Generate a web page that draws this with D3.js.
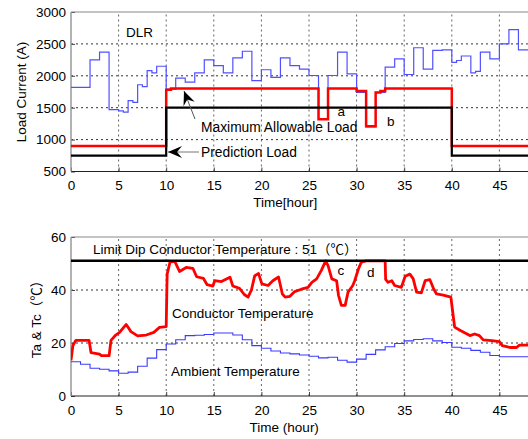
<html>
<head>
<meta http-equiv="Content-type" content="text/html;charset=UTF-8">
<title>DLR load and conductor temperature</title>
<script src="https://d3js.org/d3.v7.min.js"></script>
<style>
    body { margin: 0; background: #fff; }
    svg text { font-family: 'Liberation Sans', Arial, 'Noto Sans CJK KR', sans-serif; fill: #000; }
</style>
</head>
<body>
<div id="chart"></div>

<script>
// ***** DATA *****
// Load current (A), step values starting at each time (hour)
var loadTime = [0, 2, 3, 4, 5, 5.5, 6, 6.5, 7, 7.5, 8, 8.5, 9, 10, 11, 12, 13, 14, 15, 16, 17, 18, 19, 20, 21, 22, 23, 24, 25, 26, 27, 28, 29, 30, 31, 32, 33, 34, 35, 36, 37, 38, 39, 40, 40.5, 41, 42, 42.5, 43, 44, 45, 46, 47, 50];
var loadCurrent = [1820, 2250, 2370, 1470, 1450, 1430, 1610, 1585, 1860, 1830, 2080, 2045, 2150, 1790, 1965, 1900, 2045, 2250, 2160, 2045, 2280, 2385, 1925, 2095, 1975, 2280, 2160, 2105, 2005, 1320, 2005, 2370, 2030, 1740, 1200, 1740, 2135, 2265, 2020, 2440, 2105, 2400, 2405, 2210, 2240, 2310, 2045, 2070, 2370, 2265, 2500, 2725, 2405, 2405];

// Maximum allowable load (A)
var maxLoadTime = [0, 10, 10.5, 26, 27, 30, 31, 32, 32.5, 33, 40, 50];
var maxLoad = [900, 1780, 1800, 1320, 1800, 1760, 1210, 1740, 1760, 1800, 900, 900];

// Prediction load (A)
var predTime = [0, 10, 40, 50];
var predLoad = [750, 1500, 750, 750];

// Conductor temperature (deg C)
var condTime = [0, 0.2, 0.5, 1, 1.9, 2.1, 3, 3.2, 4, 4.2, 4.7, 5.1, 5.8, 6.3, 7, 7.9, 8.7, 9.3, 10, 10.1, 10.4, 10.9, 11.4, 12.1, 12.8, 13.2, 13.9, 14.3, 14.9, 15.1, 15.8, 16.7, 17, 17.7, 18.2, 18.6, 18.95, 19.3, 19.7, 20.05, 20.7, 21.2, 21.8, 22.2, 22.5, 23, 23.5, 24.2, 24.9, 25.3, 25.8, 26.3, 26.75, 27, 27.4, 27.9, 28.1, 28.4, 28.8, 29.1, 29.6, 29.8, 30.2, 30.5, 31, 33, 33.05, 33.3, 33.7, 34, 34.7, 35.1, 35.6, 35.95, 36.3, 36.8, 37.2, 37.7, 38.1, 38.4, 39.1, 39.9, 40.1, 40.3, 40.9, 41.6, 41.9, 42.4, 42.9, 43.3, 44.2, 45, 45.3, 46.1, 46.8, 47.1, 48, 50];
var condTemp = [13.5, 19, 21, 21, 21, 16.4, 15.8, 15.2, 15.2, 21, 23, 24, 27, 24.3, 22.7, 23, 24, 25.9, 26.2, 46, 50.5, 50.8, 47, 48.5, 48.2, 45, 44.4, 42, 41.5, 43.5, 43.2, 44.8, 41.5, 40.6, 38.3, 37.3, 40, 45.4, 46.2, 42.3, 41.7, 43.5, 44.9, 38.5, 37.3, 37.6, 39.4, 40.3, 41, 42.9, 44.2, 47.4, 51, 49.2, 44.2, 43.5, 38, 34.2, 34.2, 39.2, 41.7, 43.5, 48, 50.5, 51, 51, 44, 42.9, 43.5, 41.7, 41, 45.2, 46, 44.2, 39.2, 38.9, 43.5, 43.9, 40.4, 38.5, 38.1, 37.3, 31.6, 26, 24.7, 23.4, 22.8, 23.4, 22.8, 21.2, 20.9, 20.5, 19, 18.3, 18.3, 19.2, 19.2, 19.2];

// Ambient temperature (deg C), hourly steps
var ambTime = d3.range(0, 49);
var ambTemp = [12.9, 12.0, 10.5, 10.1, 9.5, 8.6, 9.0, 11.2, 14.3, 17.5, 19.6, 21.2, 22.8, 22.9, 23.2, 23.8, 23.8, 23.0, 21.2, 19.0, 18.0, 17.0, 16.2, 15.9, 15.5, 15.0, 14.4, 14.6, 13.5, 12.8, 13.9, 15.7, 17.4, 18.6, 19.8, 20.8, 21.3, 21.6, 20.8, 20.2, 18.4, 18.0, 17.2, 16.5, 15.3, 14.8, 14.8, 14.8, 14.8];

var limitTemp = 51;

var timeTicks = [0, 5, 10, 15, 20, 25, 30, 35, 40, 45];
var loadTicks = [500, 1000, 1500, 2000, 2500, 3000];
var tempTicks = [0, 20, 40, 60];

// ***** LAYOUT *****
var W = 528, H = 439;
var left = 71, right = 547;

var svg = d3.select('#chart').append('svg')
    .attr('width', W).attr('height', H);

var defs = svg.append('defs');
defs.append('marker')
    .attr('id', 'head')
    .attr('viewBox', '-14 -7 16 14')
    .attr('markerWidth', 16).attr('markerHeight', 14)
    .attr('markerUnits', 'userSpaceOnUse')
    .attr('refX', 0).attr('refY', 0)
    .attr('orient', 'auto')
    .append('path')
    .attr('d', 'M0,0 L-14,-6 L-9,0 L-14,6 Z')
    .attr('fill', '#000');

defs.append('clipPath').attr('id', 'clipTop')
    .append('rect').attr('x', left).attr('y', 12).attr('width', right - left).attr('height', 160);
defs.append('clipPath').attr('id', 'clipBot')
    .append('rect').attr('x', left).attr('y', 237).attr('width', right - left).attr('height', 160);

var x = d3.scaleLinear().domain([0, 50]).range([left, right]);
var yTop = d3.scaleLinear().domain([500, 3000]).range([171.5, 12]);
var yBot = d3.scaleLinear().domain([0, 60]).range([396, 237]);

function pairs(t, v) {
    return t.map(function(d, i) { return [d, v[i]]; });
}

function panel(y, ticks, clipId) {
    var g = svg.append('g');
    var y0 = y.range()[0], y1 = y.range()[1];

    // grid
    g.selectAll('.vgrid').data(timeTicks.slice(1)).enter().append('line')
        .attr('x1', function(d) { return x(d); }).attr('x2', function(d) { return x(d); })
        .attr('y1', y0).attr('y2', y1)
        .attr('stroke', '#666').attr('stroke-dasharray', '2,3');
    g.selectAll('.hgrid').data(ticks.slice(1, -1)).enter().append('line')
        .attr('x1', left).attr('x2', right)
        .attr('y1', function(d) { return y(d); }).attr('y2', function(d) { return y(d); })
        .attr('stroke', '#333').attr('stroke-dasharray', '2,3');

    // axes
    var ax = g.append('g').attr('transform', 'translate(0,' + y0 + ')')
        .call(d3.axisBottom(x).tickValues(timeTicks).tickFormat(d3.format('d')).tickSize(-4).tickPadding(9));
    var ay = g.append('g').attr('transform', 'translate(' + left + ',0)')
        .call(d3.axisLeft(y).tickValues(ticks).tickFormat(d3.format('d')).tickSize(-4).tickPadding(5));
    [ax, ay].forEach(function(a) {
        a.attr('font-size', null).attr('font-family', null);
        a.select('.domain').remove();
        a.selectAll('text').style('font-size', '13.5px').attr('fill', '#000');
        a.selectAll('line').attr('stroke', '#444');
    });

    // frame
    g.append('line').attr('x1', left).attr('x2', right).attr('y1', y0).attr('y2', y0).attr('stroke', '#222');
    g.append('line').attr('x1', left).attr('x2', right).attr('y1', y1).attr('y2', y1).attr('stroke', '#888');
    g.append('line').attr('x1', left).attr('x2', left).attr('y1', y0).attr('y2', y1).attr('stroke', '#999').attr('stroke-width', 1.5);

    return svg.append('g').attr('clip-path', 'url(#' + clipId + ')');
}

// ***** TOP: LOAD CURRENT *****
var topPanel = panel(yTop, loadTicks, 'clipTop');
var stepTop = d3.line().curve(d3.curveStepAfter)
    .x(function(d) { return x(d[0]); }).y(function(d) { return yTop(d[1]); });

topPanel.append('path').datum(pairs(loadTime, loadCurrent))
    .attr('d', stepTop).attr('fill', 'none').attr('stroke', '#5050ff').attr('stroke-width', 1.2);
topPanel.append('path').datum(pairs(maxLoadTime, maxLoad))
    .attr('d', stepTop).attr('fill', 'none').attr('stroke', '#ff0000').attr('stroke-width', 2.5);
topPanel.append('path').datum(pairs(predTime, predLoad))
    .attr('d', stepTop).attr('fill', 'none').attr('stroke', '#000').attr('stroke-width', 2.2);

svg.append('text').attr('x', 126).attr('y', 37).style('font-size', '13.5px').text('DLR');
svg.append('text').attr('x', x(28)).attr('y', 116).style('font-size', '13.5px').text('a');
svg.append('text').attr('x', x(33.2)).attr('y', 126).style('font-size', '13.5px').text('b');
svg.append('text').attr('x', 201).attr('y', 132).style('font-size', '13.8px').text('Maximum Allowable Load');
svg.append('text').attr('x', 201).attr('y', 157).style('font-size', '13.8px').text('Prediction Load');

svg.append('line').attr('x1', 195).attr('y1', 119).attr('x2', 184).attr('y2', 91)
    .attr('stroke', '#555').attr('stroke-width', 1).attr('marker-end', 'url(#head)');
svg.append('line').attr('x1', 199).attr('y1', 152).attr('x2', 168).attr('y2', 152)
    .attr('stroke', '#777').attr('stroke-width', 1).attr('marker-end', 'url(#head)');

svg.append('text').attr('x', x(22.5)).attr('y', 207).attr('text-anchor', 'middle')
    .style('font-size', '13.5px').text('Time[hour]');
svg.append('text').attr('transform', 'translate(26,92) rotate(-90)').attr('text-anchor', 'middle')
    .style('font-size', '13.5px').text('Load Current (A)');

// ***** BOTTOM: TEMPERATURES *****
var botPanel = panel(yBot, tempTicks, 'clipBot');
var lineBot = d3.line()
    .x(function(d) { return x(d[0]); }).y(function(d) { return yBot(d[1]); });
var stepBot = d3.line().curve(d3.curveStepAfter)
    .x(function(d) { return x(d[0]); }).y(function(d) { return yBot(d[1]); });

botPanel.append('path').datum(pairs(ambTime, ambTemp))
    .attr('d', stepBot).attr('fill', 'none').attr('stroke', '#3a3aff').attr('stroke-width', 1.1);
botPanel.append('path').datum(pairs(condTime, condTemp))
    .attr('d', lineBot).attr('fill', 'none').attr('stroke', '#ff0000').attr('stroke-width', 2.8)
    .attr('stroke-linejoin', 'round');
botPanel.append('line').attr('x1', left).attr('x2', right)
    .attr('y1', yBot(limitTemp)).attr('y2', yBot(limitTemp))
    .attr('stroke', '#000').attr('stroke-width', 2.5);

svg.append('text').attr('x', 93).attr('y', 254).style('font-size', '13.5px')
    .text('Limit Dip Conductor Temperature : 51\uFF08\u2103\uFF09');
svg.append('text').attr('x', 172).attr('y', 318).style('font-size', '13.5px').text('Conductor Temperature');
svg.append('text').attr('x', 171).attr('y', 376).style('font-size', '13.5px').text('Ambient Temperature');
svg.append('text').attr('x', x(28)).attr('y', 275).style('font-size', '13.5px').text('c');
svg.append('text').attr('x', x(31.1)).attr('y', 277).style('font-size', '13.5px').text('d');

svg.append('text').attr('x', x(22.4)).attr('y', 432).attr('text-anchor', 'middle')
    .style('font-size', '13.5px').text('Time (hour)');
svg.append('text').attr('transform', 'translate(41,316) rotate(-90)').attr('text-anchor', 'middle')
    .style('font-size', '13.5px').text('Ta & Tc\uFF08\u2103\uFF09');
</script>
</body>
</html>
